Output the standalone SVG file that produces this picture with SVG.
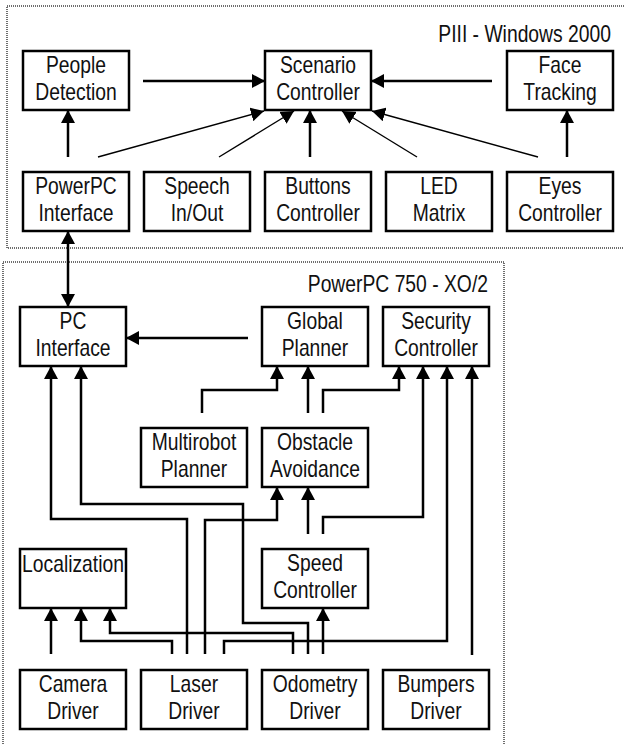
<svg xmlns="http://www.w3.org/2000/svg" width="624" height="744" viewBox="0 0 624 744">
<defs>
<style>
.frame{fill:none;stroke:#6e6e6e;stroke-width:2;stroke-dasharray:1 1}
.box{fill:#fff;stroke:#000;stroke-width:2.5}
.t{font-family:"Liberation Sans",Arial,sans-serif;font-size:23px;fill:#111;text-anchor:middle;transform-box:fill-box;transform-origin:center;transform:scaleX(0.84)}
.title{font-family:"Liberation Sans",Arial,sans-serif;font-size:23px;fill:#111;text-anchor:end;transform-box:fill-box;transform-origin:right center;transform:scaleX(0.84)}
.c{fill:none;stroke:#000;stroke-width:2.5;marker-end:url(#ah)}
.d{fill:none;stroke:#000;stroke-width:1.4;marker-end:url(#ah)}
</style>
<marker id="ah" markerUnits="userSpaceOnUse" markerWidth="14" markerHeight="14" refX="13" refY="7" orient="auto-start-reverse">
<path d="M0,0 L13,7 L0,14 z" fill="#000"/>
</marker>
</defs>
<rect width="624" height="744" fill="#fff"/>
<g id="frames">
<rect class="frame" x="7" y="6" width="640" height="242"/>
<rect class="frame" x="3" y="262" width="501" height="500"/>
<text class="title" x="611" y="42">PIII - Windows 2000</text>
<text class="title" x="488" y="292">PowerPC 750 - XO/2</text>
</g>
<g id="connectors">
<path class="c" d="M143,81 H265"/>
<path class="c" d="M492,81 H371"/>
<path class="c" d="M68,157 V110"/>
<path class="c" d="M567,157 V110"/>
<path class="c" d="M310,157 V110"/>
<path class="d" d="M98,157 L264,111"/>
<path class="d" d="M219,157 L294,111"/>
<path class="d" d="M417,157 L342,111"/>
<path class="d" d="M538,157 L372,111"/>
<path class="c" d="M68,231 V307" marker-start="url(#ah)"/>
<path class="c" d="M248,338 H126"/>
<path class="c" d="M187,654 V519 H51 V366"/>
<path class="c" d="M308,654 V623 H243 V504 H81 V366"/>
<path class="c" d="M202,413 V390 H277 V366"/>
<path class="c" d="M308,413 V366"/>
<path class="c" d="M323,413 V390 H399 V366"/>
<path class="c" d="M308,534 V487"/>
<path class="c" d="M323,534 V517 H423 V366"/>
<path class="c" d="M205,654 V520 H277 V487"/>
<path class="c" d="M472,655 V366"/>
<path class="c" d="M224,654 V641 H447 V366"/>
<path class="c" d="M323,654 V608"/>
<path class="c" d="M51,654 V608"/>
<path class="c" d="M172,654 V641 H81 V608"/>
<path class="c" d="M293,654 V633 H110 V608"/>
</g>
<g id="people-detection"><rect class="box" x="23" y="51" width="106" height="59"/><text class="t" x="76" y="73">People</text><text class="t" x="76" y="100">Detection</text></g>
<g id="scenario-controller"><rect class="box" x="265" y="51" width="106" height="59"/><text class="t" x="318" y="73">Scenario</text><text class="t" x="318" y="100">Controller</text></g>
<g id="face-tracking"><rect class="box" x="507" y="51" width="106" height="59"/><text class="t" x="560" y="73">Face</text><text class="t" x="560" y="100">Tracking</text></g>
<g id="powerpc-interface"><rect class="box" x="23" y="172" width="106" height="59"/><text class="t" x="76" y="194">PowerPC</text><text class="t" x="76" y="221">Interface</text></g>
<g id="speech-inout"><rect class="box" x="144" y="172" width="106" height="59"/><text class="t" x="197" y="194">Speech</text><text class="t" x="197" y="221">In/Out</text></g>
<g id="buttons-controller"><rect class="box" x="265" y="172" width="106" height="59"/><text class="t" x="318" y="194">Buttons</text><text class="t" x="318" y="221">Controller</text></g>
<g id="led-matrix"><rect class="box" x="386" y="172" width="106" height="59"/><text class="t" x="439" y="194">LED</text><text class="t" x="439" y="221">Matrix</text></g>
<g id="eyes-controller"><rect class="box" x="507" y="172" width="106" height="59"/><text class="t" x="560" y="194">Eyes</text><text class="t" x="560" y="221">Controller</text></g>
<g id="pc-interface"><rect class="box" x="20" y="307" width="106" height="59"/><text class="t" x="73" y="329">PC</text><text class="t" x="73" y="356">Interface</text></g>
<g id="global-planner"><rect class="box" x="262" y="307" width="106" height="59"/><text class="t" x="315" y="329">Global</text><text class="t" x="315" y="356">Planner</text></g>
<g id="security-controller"><rect class="box" x="383" y="307" width="106" height="59"/><text class="t" x="436" y="329">Security</text><text class="t" x="436" y="356">Controller</text></g>
<g id="multirobot-planner"><rect class="box" x="141" y="428" width="106" height="59"/><text class="t" x="194" y="450">Multirobot</text><text class="t" x="194" y="477">Planner</text></g>
<g id="obstacle-avoidance"><rect class="box" x="262" y="428" width="106" height="59"/><text class="t" x="315" y="450">Obstacle</text><text class="t" x="315" y="477">Avoidance</text></g>
<g id="localization"><rect class="box" x="20" y="549" width="106" height="59"/><text class="t" x="73" y="572">Localization</text></g>
<g id="speed-controller"><rect class="box" x="262" y="549" width="106" height="59"/><text class="t" x="315" y="571">Speed</text><text class="t" x="315" y="598">Controller</text></g>
<g id="camera-driver"><rect class="box" x="20" y="670" width="106" height="59"/><text class="t" x="73" y="692">Camera</text><text class="t" x="73" y="719">Driver</text></g>
<g id="laser-driver"><rect class="box" x="141" y="670" width="106" height="59"/><text class="t" x="194" y="692">Laser</text><text class="t" x="194" y="719">Driver</text></g>
<g id="odometry-driver"><rect class="box" x="262" y="670" width="106" height="59"/><text class="t" x="315" y="692">Odometry</text><text class="t" x="315" y="719">Driver</text></g>
<g id="bumpers-driver"><rect class="box" x="383" y="670" width="106" height="59"/><text class="t" x="436" y="692">Bumpers</text><text class="t" x="436" y="719">Driver</text></g>
</svg>
